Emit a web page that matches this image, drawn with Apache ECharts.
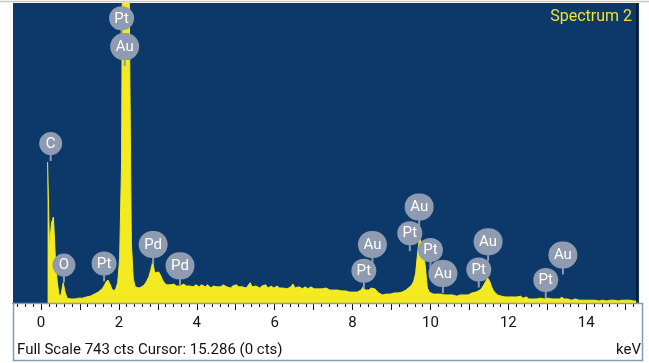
<!DOCTYPE html>
<html>
<head>
<meta charset="utf-8">
<script src="https://cdn.jsdelivr.net/npm/echarts@6/dist/echarts.min.js"></script>
<style>
  html, body { margin: 0; padding: 0; background: #ffffff; }
  #chart { width: 649px; height: 363px; }
</style>
</head>
<body>
<div id="chart"></div>
<script>
// Detector channel calibration (energy of first channel and channel width, keV)
const firstChannelKeV = 0.17;
const channelWidthKeV = 0.05;

// Vertical full scale and cursor readout
const fullScaleCts = 743;
const cursorKeV = 15.286;
const cursorCts = 0;

// Counts per channel, one row per keV
const counts = [
  349, 136, 198, 213, 111, 50, 17, 22, 50, 27, 12, 10, 10, 12, 10, 10, 12, 10, 12, 12,
  15, 15, 17, 17, 22, 22, 27, 30, 35, 42, 52, 57, 47, 35, 30, 35, 50, 110, 350, 1500,
  2500, 1700, 700, 150, 60, 40, 37, 37, 40, 42, 47, 55, 65, 82, 102, 74, 72, 77, 69, 57,
  50, 45, 42, 45, 42, 47, 42, 45, 42, 45, 47, 42, 45, 42, 45, 40, 45, 42, 40, 45,
  42, 40, 45, 42, 37, 42, 45, 40, 42, 40, 45, 42, 40, 42, 37, 42, 40, 45, 40, 42,
  40, 42, 37, 40, 50, 40, 37, 42, 40, 37, 42, 40, 45, 37, 40, 42, 37, 40, 42, 37,
  40, 37, 40, 35, 37, 40, 47, 37, 35, 40, 37, 35, 40, 37, 35, 40, 37, 35, 37, 35,
  37, 35, 32, 37, 35, 32, 35, 32, 30, 32, 35, 30, 32, 30, 27, 27, 25, 27, 25, 27,
  30, 32, 40, 32, 30, 32, 37, 40, 35, 30, 25, 22, 20, 22, 22, 25, 22, 25, 25, 25,
  25, 27, 27, 30, 32, 35, 40, 45, 54, 74, 124, 163, 166, 129, 87, 37, 27, 25, 22, 22,
  22, 20, 22, 20, 20, 22, 20, 17, 20, 20, 17, 20, 20, 17, 20, 22, 20, 22, 25, 27,
  27, 30, 32, 37, 45, 54, 62, 54, 40, 30, 25, 20, 20, 17, 15, 15, 12, 15, 12, 15,
  12, 15, 12, 17, 12, 12, 15, 10, 12, 10, 12, 10, 10, 12, 10, 10, 10, 12, 10, 10,
  10, 10, 12, 10, 15, 10, 7, 10, 7, 7, 7, 10, 7, 7, 7, 7, 7, 7, 7, 7,
  7, 7, 7, 5, 7, 7, 7, 5, 7, 7, 5, 7, 7, 5, 7, 7, 5, 7, 5, 7,
  7, 5, 7, 5
];

// Element markers: symbol, line energy (keV) and badge height (cts)
const peakLabels   = ['Pt', 'Au', 'C', 'O', 'Pt', 'Pd', 'Pd', 'Au', 'Pt', 'Au', 'Pt', 'Pt', 'Au', 'Au', 'Pt', 'Au', 'Pt'];
const peakKeV      = [2.07, 2.15, 0.25, 0.59, 1.62, 2.88, 3.57, 8.51, 8.29, 9.71, 9.47, 10.0, 10.32, 11.48, 11.24, 13.40, 12.96];
const peakLabelCts = [705, 635, 395, 94, 98, 145, 92, 145, 80, 238, 173, 131, 73, 152, 83, 119, 57];

// Axis labels
const tickLabelKeV = [0, 2, 4, 6, 8, 10, 12, 14];
const axisUnit = 'keV';
const spectrumTitle = 'Spectrum 2';

const plotBlue = '#0d396a';
const traceYellow = '#f3ea22';
const badgeGrey = '#8e9bb0';
const font = 'Roboto, "Noto Sans", sans-serif';

const xMin = -0.718;
const xMax = 15.354;

// tick positions: small every 0.2 keV, larger every 1 keV
const minorTicks = [];
for (let k = -3; k <= 76; k++) minorTicks.push(Math.round(k * 2) / 10);
const majorTicks = [];
for (let k = 0; k <= 15; k++) majorTicks.push(k);

const spectrum = counts.map((c, i) => [+(firstChannelKeV + i * channelWidthKeV).toFixed(3), c]);
const badges = peakKeV.map((k, i) => [k, peakLabelCts[i]]);

const chart = echarts.init(document.getElementById('chart'), null, { renderer: 'canvas' });

chart.setOption({
  animation: false,
  backgroundColor: '#ffffff',
  grid: {
    left: 13, right: 10, top: 3, bottom: 60,
    show: true, backgroundColor: plotBlue, borderWidth: 0
  },
  xAxis: [
    {
      type: 'value', min: xMin, max: xMax,
      axisLine: { show: true, onZero: false, lineStyle: { color: '#111', width: 1 } },
      axisTick: { show: true, customValues: minorTicks, length: 4, lineStyle: { color: '#111', width: 1 } },
      axisLabel: {
        show: true, customValues: tickLabelKeV, margin: 13,
        fontFamily: font, fontSize: 15, color: '#111'
      },
      splitLine: { show: false }
    },
    {
      type: 'value', min: xMin, max: xMax, position: 'bottom',
      axisLine: { show: false },
      axisTick: { show: true, customValues: majorTicks, length: 7, lineStyle: { color: '#111', width: 1 } },
      axisLabel: { show: false },
      splitLine: { show: false }
    }
  ],
  yAxis: { type: 'value', min: 0, max: fullScaleCts, show: false },
  series: [
    {
      type: 'line',
      xAxisIndex: 0,
      data: spectrum,
      showSymbol: false,
      symbol: 'none',
      clip: true,
      lineStyle: { color: traceYellow, width: 1 },
      areaStyle: { color: traceYellow, opacity: 1 },
      z: 2,
      markLine: {
        silent: true,
        symbol: 'none',
        label: { show: false },
        lineStyle: { color: '#111', width: 1.5, type: 'solid' },
        data: [{ xAxis: cursorKeV }]
      }
    },
    {
      type: 'custom',
      xAxisIndex: 0,
      data: badges,
      z: 5,
      renderItem: function (params, api) {
        const text = peakLabels[params.dataIndex];
        const c = api.coord([api.value(0), api.value(1)]);
        const w = text.length === 1 ? 23 : (text === 'Pt' ? 25 : 29);
        const h = text.length === 1 ? 23 : (text === 'Pt' ? 24 : 27);
        return {
          type: 'group',
          children: [
            {
              type: 'line',
              shape: { x1: c[0], y1: c[1], x2: c[0], y2: c[1] + h / 2 + 6 },
              style: { stroke: badgeGrey, lineWidth: 2 }
            },
            {
              type: 'rect',
              shape: { x: c[0] - w / 2, y: c[1] - h / 2, width: w, height: h, r: h / 2 },
              style: { fill: badgeGrey }
            },
            {
              type: 'text',
              style: {
                text: text, x: c[0], y: c[1] + 0.5,
                align: 'center', verticalAlign: 'middle',
                fill: '#ffffff', fontSize: 15, fontFamily: font
              }
            }
          ]
        };
      }
    }
  ],
  graphic: [
    { type: 'line', shape: { x1: 0, y1: 1.5, x2: 649, y2: 1.5 }, style: { stroke: '#c8c8c8', lineWidth: 1.5 }, z: 10 },
    { type: 'rect', shape: { x: 13.5, y: 303.5, width: 629, height: 57 }, style: { fill: null, stroke: '#7f9bbd', lineWidth: 1.5 }, z: 10 },
    {
      type: 'text', z: 10,
      style: { text: spectrumTitle, x: 632, y: 17, align: 'right', verticalAlign: 'middle', fill: '#ede23a', fontSize: 16, fontFamily: font }
    },
    {
      type: 'text', z: 10,
      style: {
        text: 'Full Scale ' + fullScaleCts + ' cts Cursor: ' + cursorKeV.toFixed(3) + ' (' + cursorCts + ' cts)',
        x: 17, y: 350.5, align: 'left', verticalAlign: 'middle', fill: '#111', fontSize: 15, fontFamily: font
      }
    },
    {
      type: 'text', z: 10,
      style: { text: axisUnit, x: 641, y: 350.5, align: 'right', verticalAlign: 'middle', fill: '#111', fontSize: 15, fontFamily: font }
    }
  ]
});
</script>
</body>
</html>
